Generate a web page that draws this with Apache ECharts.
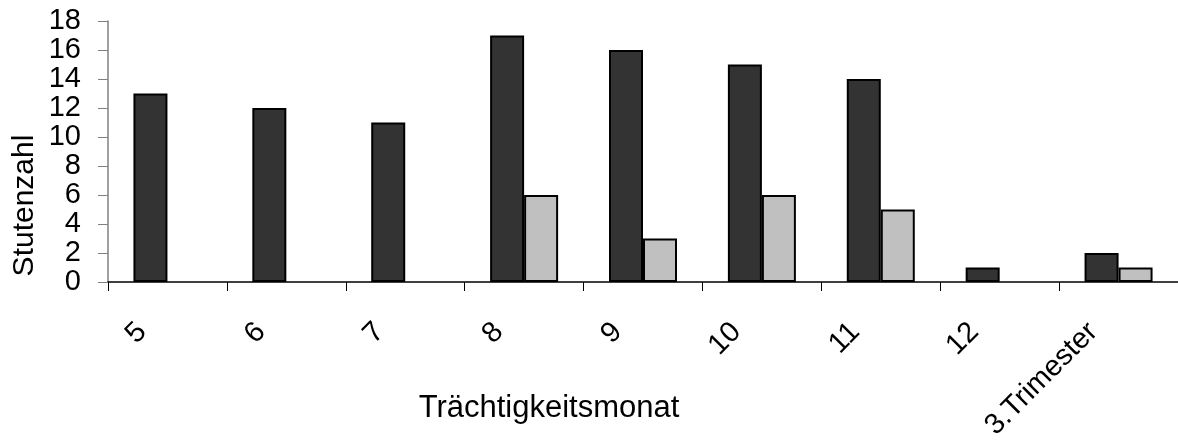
<!DOCTYPE html>
<html>
<head>
<meta charset="utf-8">
<script src="https://cdn.jsdelivr.net/npm/echarts@6/dist/echarts.min.js"></script>
<style>
  html, body { margin: 0; padding: 0; background: #fff; }
  #chart { width: 1178px; height: 445px; }
</style>
</head>
<body>
<div id="chart"></div>
<script>
// Trächtigkeitsmonate
const categories = ["5", "6", "7", "8", "9", "10", "11", "12", "3.Trimester"];
// dunkle Balken
const darkValues = [13, 12, 11, 17, 16, 15, 14, 1, 2];
// helle Balken (0 = kein Balken)
const lightValues = [0, 0, 0, 6, 3, 6, 5, 0, 1];
const yTicks = [0, 2, 4, 6, 8, 10, 12, 14, 16, 18];

const font = "Liberation Sans, Arial, sans-serif";

// leere Werte nicht als Balken zeichnen
const toBars = (arr) => arr.map((v) => (v === 0 ? "-" : v));

let chart = echarts.init(document.getElementById("chart"));
chart.setOption({
  animation: false,
  grid: {
    left: 108,
    right: 0,
    top: 21,
    bottom: 163,
    containLabel: false,
    outerBoundsMode: "none",
  },
  xAxis: {
    type: "category",
    data: categories,
    name: "Trächtigkeitsmonat",
    nameLocation: "middle",
    nameGap: 111,
    nameMoveOverlap: false,
    nameTextStyle: {
      fontFamily: font,
      fontSize: 31,
      color: "#000",
      padding: [0, 188, 0, 0],
    },
    axisLine: { show: true, lineStyle: { color: "#000", width: 1.5 } },
    axisTick: {
      show: true,
      alignWithLabel: false,
      length: 9,
      lineStyle: { color: "#000", width: 1 },
    },
    axisLabel: {
      interval: 0,
      rotate: 45,
      margin: 20,
      padding: [0, 36, 0, 0],
      fontFamily: font,
      fontSize: 29,
      color: "#000",
    },
  },
  yAxis: {
    type: "value",
    min: yTicks[0],
    max: yTicks[yTicks.length - 1],
    interval: 2,
    name: "Stutenzahl",
    nameLocation: "middle",
    nameGap: 68,
    nameMoveOverlap: false,
    nameTextStyle: {
      fontFamily: font,
      fontSize: 30,
      color: "#000",
      padding: [0, 108, 0, 0],
    },
    axisLine: { show: true, lineStyle: { color: "#808080", width: 1.5 } },
    axisTick: { show: true, length: 10, lineStyle: { color: "#808080", width: 1 } },
    splitLine: { show: false },
    axisLabel: {
      margin: 27,
      showMinLabel: true,
      showMaxLabel: true,
      hideOverlap: false,
      fontFamily: font,
      fontSize: 29,
      color: "#000",
    },
  },
  series: [
    {
      type: "bar",
      data: toBars(darkValues),
      barWidth: 34,
      barGap: "0%",
      itemStyle: { color: "#333333", borderColor: "#000", borderWidth: 2 },
    },
    {
      type: "bar",
      data: toBars(lightValues),
      barWidth: 34,
      itemStyle: { color: "#c0c0c0", borderColor: "#000", borderWidth: 2 },
    },
  ],
});
</script>
</body>
</html>
